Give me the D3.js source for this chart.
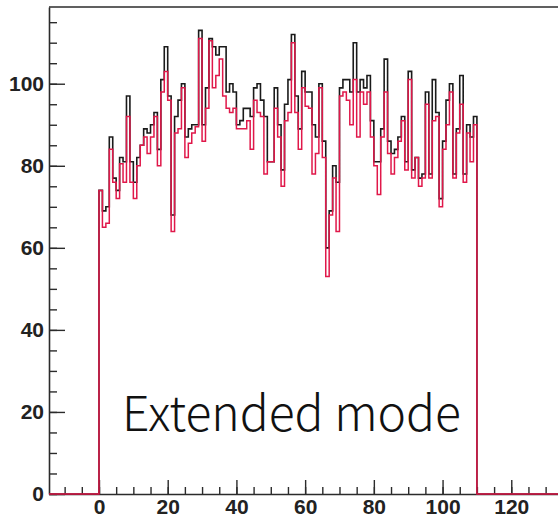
<!DOCTYPE html>
<html><head><meta charset="utf-8">
<script src="https://cdn.jsdelivr.net/npm/d3@7/dist/d3.min.js"></script>
<style>body{margin:0;background:#fff;} svg{display:block;}</style>
</head><body>
<svg id="c" width="558" height="520"></svg>
<script>
// ---- data ----
const binStart = 0;
const binWidth = 1;
const blackCounts = [74,69,70,87,77,74,82,81,97,81, 76,82,85,89,88,90,93,84,101,109,
  97,68,92,96,100,87,89,90,90,113, 90,99,111,109,107,109,109,98,100,98,
  90,91,94,94,92,99,100,96,92,81, 81,99,90,79,95,101,112,97,89,103,
  98,98,90,87,100,86,60,69,80,76, 99,101,101,98,110,98,101,99,102,91,
  81,81,89,106,86,83,84,87,92,81, 103,79,82,77,78,98,78,101,93,72,
  86,96,100,78,89,102,78,90,87,92];
const redCounts = [74,65,66,84,76,72,80.5,76,92,76, 72,80,85,87,83,87,92,80,98,103,
  96,64,88,89,99,82,85.5,88,89.5,111, 86,94,110.5,99,102,106,97,94,93,94,
  89,89,89,91,84,96,93,92,78,81, 81,94,87,75,91,93,110,93,84,99,
  94.5,94,78,83,99,82,53,68,77,64, 97,98,96,90,101,87,98,95,98,87,
  80,73,87,98,83,78,82,86,91,79, 101,77,82,75,77,95,77,91,92,70,
  84,90,98,77,88,95,76,88,81,90];
const xTickLabels = [0,20,40,60,80,100,120];
const yTickLabels = [0,20,40,60,80,100];
const xMinorTicks = d3.range(-10, 135, 5);
const yMinorTicks = d3.range(0, 119, 5);
const annotation = "Extended mode";

// ---- layout ----
const svg = d3.select("#c");
const xMin = -14.55, xMax = 133.6;
const x = d3.scaleLinear().domain([xMin, xMax]).range([49, 558]);
const y = d3.scaleLinear().domain([0, 118.7]).range([494, 7]);
const axisColor = "#2b2b2b";
const labelFont = "'Liberation Sans', Arial, Helvetica, sans-serif";

// frame top
svg.append("line").attr("x1", 49).attr("x2", 558).attr("y1", 7).attr("y2", 7)
  .attr("stroke", axisColor).attr("stroke-width", 1.6);

// minor ticks
const yMinor = svg.append("g").attr("transform", "translate(49,0)")
  .call(d3.axisLeft(y).tickValues(yMinorTicks).tickSizeInner(-8).tickSizeOuter(0).tickFormat(""));
const xMinor = svg.append("g").attr("transform", "translate(0,494)")
  .call(d3.axisBottom(x).tickValues(xMinorTicks).tickSizeInner(-7).tickSizeOuter(0).tickFormat(""));
[yMinor, xMinor].forEach(g => {
  g.select(".domain").remove();
  g.selectAll("line").attr("stroke", axisColor).attr("stroke-width", 1.4);
});

// major axes
const yAxis = svg.append("g").attr("transform", "translate(49,0)")
  .call(d3.axisLeft(y).tickValues(yTickLabels).tickSizeInner(-16).tickSizeOuter(0).tickPadding(5));
const xAxis = svg.append("g").attr("transform", "translate(0,494)")
  .call(d3.axisBottom(x).tickValues(xTickLabels).tickSizeInner(-14).tickSizeOuter(0).tickPadding(5));
[yAxis, xAxis].forEach(g => {
  g.select(".domain").attr("stroke", axisColor).attr("stroke-width", 1.6);
  g.selectAll("line").attr("stroke", axisColor).attr("stroke-width", 1.4);
  g.selectAll("text").attr("font-family", labelFont).attr("font-weight", "bold")
    .attr("font-size", 21).attr("fill", "#222");
});

// histograms
function histPoints(counts) {
  const pts = [[xMin, 0]];
  counts.forEach((c, i) => pts.push([binStart + i * binWidth, c]));
  pts.push([binStart + counts.length * binWidth, 0]);
  pts.push([xMax, 0]);
  return pts;
}
const line = d3.line().x(d => x(d[0])).y(d => y(d[1])).curve(d3.curveStepAfter);
svg.append("path").attr("d", line(histPoints(blackCounts)))
  .attr("fill", "none").attr("stroke", "#1a1a1a").attr("stroke-width", 1.6);
svg.append("path").attr("d", line(histPoints(redCounts)))
  .attr("fill", "none").attr("stroke", "#e0184a").attr("stroke-width", 1.5);

// annotation
svg.append("text").attr("x", 122).attr("y", 431)
  .attr("font-family", "'Noto Sans CJK JP', 'Noto Sans', sans-serif")
  .attr("font-weight", 300).attr("font-size", 48).attr("fill", "#111")
  .text(annotation);
</script>
</body></html>
